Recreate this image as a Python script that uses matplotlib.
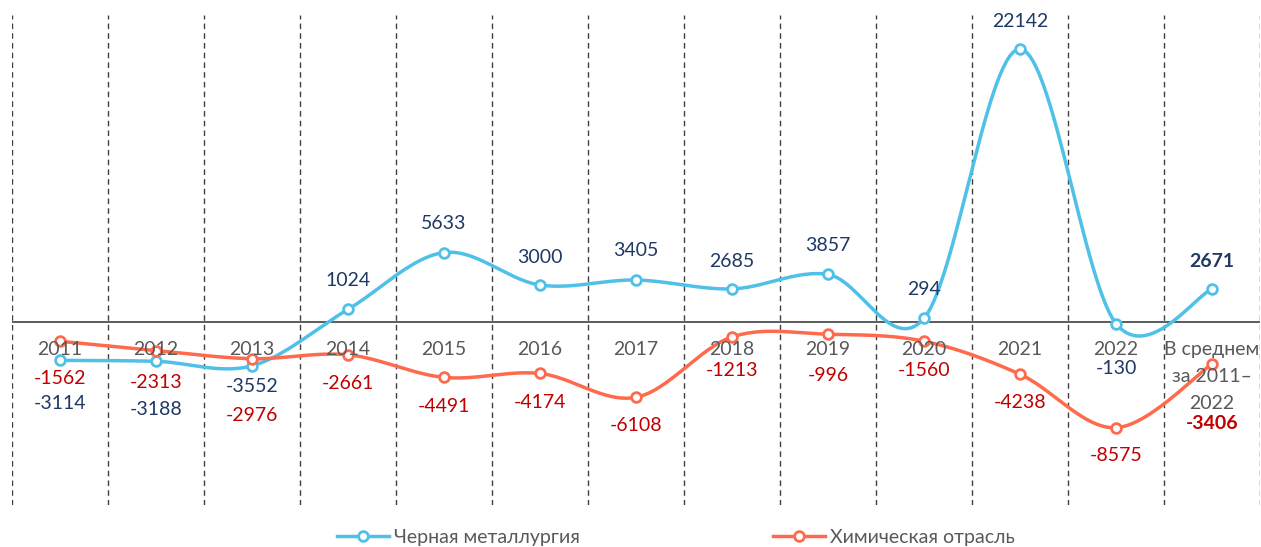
import numpy as np
import matplotlib.pyplot as plt

plt.rcParams['font.family'] = ['Lato', 'DejaVu Sans']

categories = ["2011", "2012", "2013", "2014", "2015", "2016", "2017",
              "2018", "2019", "2020", "2021", "2022", "В среднем\nза 2011–\n2022"]
metal = [-3114, -3188, -3552, 1024, 5633, 3000, 3405, 2685, 3857, 294, 22142, -130, 2671]
chem = [-1562, -2313, -2976, -2661, -4491, -4174, -6108, -1213, -996, -1560, -4238, -8575, -3406]
metal_name = "Черная металлургия"
chem_name = "Химическая отрасль"

# label offsets in points (layout only, hand-tuned like the original)
metal_off = [-31, -35, -15, 21, 21, 20, 21, 20, 21, 21, 20, -32, 20]
chem_off = [-27, -23, -41, -21, -21, -21, -20, -24, -30, -21, -20, -20, -43]

BLUE = "#4FC0E8"
RED = "#FF6A4D"
NAVY = "#1F3864"
DARKRED = "#C00000"
GRAY = "#595959"


def smooth(x, y, n=30):
    # catmull-rom style bezier, like excel smoothed lines
    x = np.asarray(x, float)
    y = np.asarray(y, float)
    px = np.concatenate([[x[0]], x, [x[-1]]])
    py = np.concatenate([[y[0]], y, [y[-1]]])
    xs, ys = [], []
    t = np.linspace(0, 1, n)
    for i in range(len(x) - 1):
        p0 = np.array([px[i + 1], py[i + 1]])
        p3 = np.array([px[i + 2], py[i + 2]])
        p1 = p0 + (p3 - np.array([px[i], py[i]])) / 6
        p2 = p3 - (np.array([px[i + 3], py[i + 3]]) - p0) / 6
        b = ((1 - t) ** 3)[:, None] * p0 + (3 * (1 - t) ** 2 * t)[:, None] * p1 \
            + (3 * (1 - t) * t ** 2)[:, None] * p2 + (t ** 3)[:, None] * p3
        xs.extend(b[:, 0])
        ys.extend(b[:, 1])
    return xs, ys


fig = plt.figure(figsize=(12.61, 5.47), dpi=100)
ax = fig.add_axes([12 / 1261, 42 / 547, 1248 / 1261, 490 / 547])

n = len(categories)
x = np.arange(n)
scale = 273 / 22142
ax.set_xlim(-0.5, n - 0.5)
ax.set_ylim(-(505 - 322) / scale, (322 - 15) / scale)

for k in range(n + 1):
    ax.axvline(k - 0.5, color="#404040", lw=1, ls=(0, (4, 3)), zorder=1)
ax.axhline(0, color="#404040", lw=1.2, zorder=2)

for vals, col in [(metal, BLUE), (chem, RED)]:
    sx, sy = smooth(x, vals)
    ax.plot(sx, sy, color=col, lw=2.5, zorder=3, solid_capstyle='round')
    ax.plot(x, vals, ls="none", marker="o", ms=7, mfc="white", mec=col, mew=2, zorder=4)

for i in range(n):
    bold = "bold" if i == n - 1 else "normal"
    ax.annotate(str(metal[i]), (x[i], metal[i]), xytext=(0, metal_off[i]),
                textcoords="offset points", ha="center", va="center",
                color=NAVY, fontsize=14, fontweight=bold, zorder=5)
    ax.annotate(str(chem[i]), (x[i], chem[i]), xytext=(0, chem_off[i]),
                textcoords="offset points", ha="center", va="center",
                color=DARKRED, fontsize=14, fontweight=bold, zorder=5)
    ax.annotate(categories[i], (x[i], 0), xytext=(0, -14), textcoords="offset points",
                ha="center", va="top", color=GRAY, fontsize=14,
                linespacing=1.7, zorder=5)

ax.set_xticks([])
ax.set_yticks([])
for s in ax.spines.values():
    s.set_visible(False)

h1, = ax.plot([], [], color=BLUE, lw=2.5, marker="o", ms=7, mfc="white", mec=BLUE, mew=2)
h2, = ax.plot([], [], color=RED, lw=2.5, marker="o", ms=7, mfc="white", mec=RED, mew=2)
fig.legend([h1, h2], [metal_name, chem_name], loc="lower center",
           bbox_to_anchor=(0.536, -0.03), ncol=2, frameon=False, fontsize=14,
           labelcolor=GRAY, columnspacing=9.9, handlelength=2.7, handletextpad=0.25)

fig.savefig("out.png", dpi=100)
